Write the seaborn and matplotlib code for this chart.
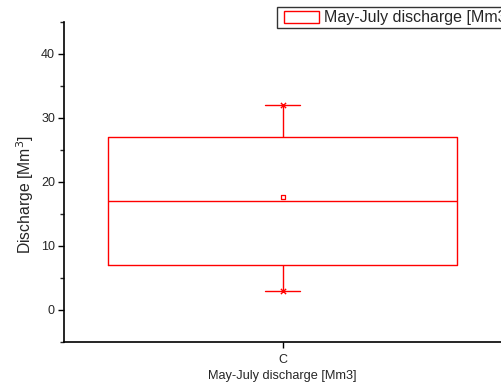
import matplotlib
matplotlib.use("Agg")
import matplotlib.pyplot as plt
import matplotlib.patches as mpatches
from matplotlib.legend_handler import HandlerPatch
from matplotlib.ticker import MultipleLocator
import seaborn as sns
import pandas as pd

# Five-number summary of May-July discharge [Mm3]
category = ["C"]
five_number = [3, 7, 17, 27, 32]   # min, Q1, median, Q3, max
mean_value = [17.6]
extremes = [3, 32]

sns.set_style("ticks")
plt.rcParams["font.family"] = ["Liberation Sans", "DejaVu Sans"]

df = pd.DataFrame({"group": category * len(five_number), "value": five_number})
df_mean = pd.DataFrame({"group": category, "value": mean_value})
df_ext = pd.DataFrame({"group": category * len(extremes), "value": extremes})

fig = plt.figure(figsize=(5.01, 3.85), dpi=100)
ax = fig.add_axes([64 / 501, 43 / 385, 437 / 501, 320 / 385])

red = "#ff0000"
sns.boxplot(data=df, x="group", y="value", ax=ax, fill=False, color=red,
            linewidth=1.0, width=0.8, whis=(0, 100), capwidths=0.08,
            showfliers=False)
sns.scatterplot(data=df_ext, x="group", y="value", ax=ax, marker="x",
                color=red, s=14, linewidth=1.0, zorder=5, legend=False)
sns.scatterplot(data=df_mean, x="group", y="value", ax=ax, marker="s",
                facecolor="white", edgecolor=red, s=12, linewidth=0.9,
                zorder=6, legend=False)

ax.set_xlim(-0.5, 0.5)
ax.set_ylim(-5, 45)
ax.yaxis.set_major_locator(MultipleLocator(10))
ax.yaxis.set_minor_locator(MultipleLocator(5))
ax.tick_params(axis="y", which="major", direction="out", length=4.5,
               width=1.0, labelsize=9, color="black", pad=2)
ax.tick_params(axis="x", which="major", direction="out", length=4.5,
               width=1.0, labelsize=9, color="black", pad=4)
ax.tick_params(axis="y", which="minor", direction="out", length=3, width=1.0)
ax.set_yticks([0, 10, 20, 30, 40])

for side in ["top", "right"]:
    ax.spines[side].set_visible(False)
for side in ["left", "bottom"]:
    ax.spines[side].set_linewidth(1.2)
    ax.spines[side].set_color("black")

ax.set_ylabel("Discharge [Mm$^3$]", fontsize=11.3)
ax.yaxis.set_label_coords(-0.063, 0.46)
ax.set_xlabel("May-July discharge [Mm3]", fontsize=9.2, labelpad=3)


def box_handle(legend, orig_handle, xdescent, ydescent, width, height, fontsize):
    # open rectangle, inset a little from the frame's left edge
    inset = 3.0
    h = 8.6
    return mpatches.Rectangle((-xdescent + inset, -ydescent + (height - h) / 2),
                              width - inset, h)


handle = mpatches.Patch(facecolor="white", edgecolor=red, linewidth=1.0)
leg = fig.legend([handle], ["May-July discharge [Mm3]"], loc="upper left",
                 bbox_to_anchor=(277 / 501, 1 - 7 / 385), fontsize=11.5,
                 frameon=True, fancybox=False, borderpad=0.2,
                 handlelength=2.4, handleheight=0.8, handletextpad=0.33,
                 borderaxespad=0,
                 handler_map={mpatches.Patch: HandlerPatch(patch_func=box_handle)})
leg.get_frame().set_edgecolor("black")
leg.get_frame().set_linewidth(1.0)

fig.savefig("out.png", dpi=100)
